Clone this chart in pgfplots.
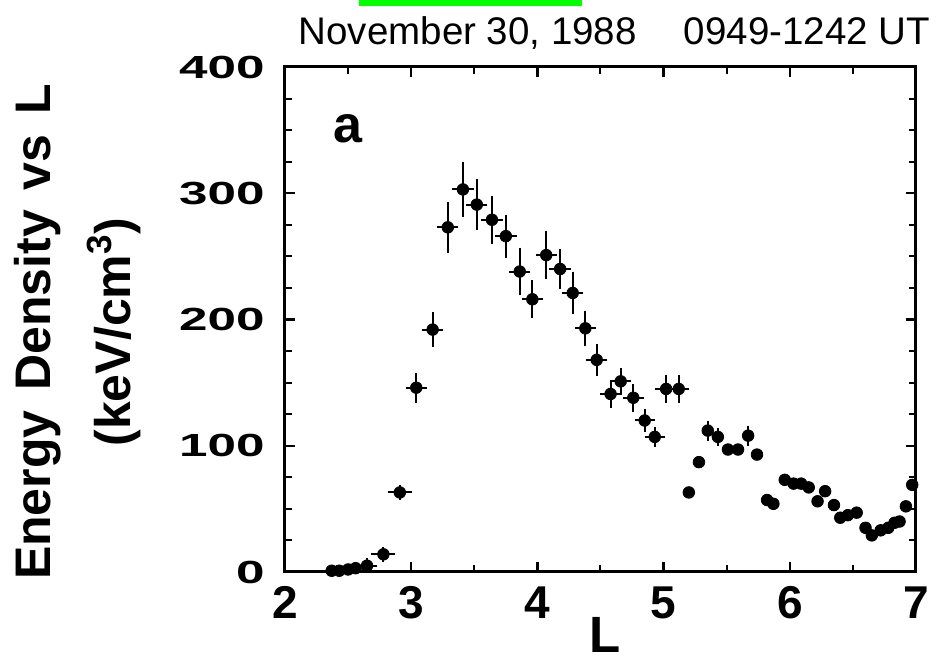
\documentclass[border=0pt]{standalone}
\usepackage{fontspec}
\setmainfont{Liberation Sans}
\usepackage{graphicx}
\usepackage{pgfplots}
\usepackage{pgfplotstable}
\pgfplotsset{compat=1.18}
\definecolor{hilite}{RGB}{0,255,0}

% points with x and y error bars
\pgfplotstableread{
L    E    eL    eE
2.65 5    0.04  2
2.78 14   0.055 2
2.91 63   0.055 2
3.04 146  0.045 8
3.17 192  0.045 10
3.29 273  0.045 16
3.41 303  0.045 18
3.52 291  0.045 16
3.64 279  0.045 15
3.75 266  0.045 13
3.86 238  0.045 15
3.96 216  0.045 11
4.07 251  0.045 15
4.18 240  0.045 12
4.28 221  0.045 13
4.38 193  0.045 10
4.47 168  0.045 9
4.58 141  0.045 7
4.66 151  0.045 7
4.76 138  0.045 7
4.85 120  0.04  5
4.93 107  0.04  4
5.02 145  0.045 7
5.12 145  0.045 7
}\errxy

% points with y error bars only
\pgfplotstableread{
L    E    eE
5.35 112  4
5.43 107  3
5.67 108  4
}\erry

% points without visible error bars
\pgfplotstableread{
L    E
2.37 1
2.43 1
2.50 2
2.56 3
5.20 63
5.28 87
5.51 97
5.59 97
5.74 93
5.82 57
5.87 54
5.96 73
6.03 70
6.09 70
6.15 67
6.22 56
6.28 64
6.35 53
6.40 43
6.46 45
6.53 47
6.60 35
6.65 29
6.72 33
6.78 35
6.83 39
6.87 40
6.92 52
6.97 69
}\plain

\newcommand{\yl}[1]{\scalebox{1.6}[1]{#1}}

\begin{document}
\begin{tikzpicture}
\begin{axis}[
    scale only axis,
    width=315.5pt, height=252.5pt,
    xmin=2, xmax=7, ymin=0, ymax=400,
    xtick={2,3,4,5,6,7},
    ytick={0,100,200,300,400},
    yticklabels={\yl{0},\yl{100},\yl{200},\yl{300},\yl{400}},
    minor x tick num=1,
    minor y tick num=3,
    axis line style={line width=1.5pt},
    major tick length=5pt,
    minor tick length=3.5pt,
    major tick style={black, line width=1.2pt},
    minor tick style={black, line width=1pt},
    /pgf/number format/assume math mode=true,
    xticklabel style={font=\fontsize{23}{23}\selectfont\bfseries, inner sep=0pt, yshift=-7pt},
    yticklabel style={font=\fontsize{16}{16}\selectfont\bfseries, inner sep=0pt, xshift=-10pt},
    clip=false,
]

\addplot[only marks, mark=*, mark size=2.9pt, black,
    error bars/.cd, x dir=both, x explicit, y dir=both, y explicit,
    error bar style={line width=1pt, black},
    error mark options={line width=1pt, mark size=2.5pt, black}]
    table[x=L, y=E, x error=eL, y error=eE] {\errxy};

\addplot[only marks, mark=*, mark size=2.9pt, black,
    error bars/.cd, y dir=both, y explicit,
    error bar style={line width=1pt, black},
    error mark options={line width=1pt, mark size=2.5pt, black}]
    table[x=L, y=E, y error=eE] {\erry};

\addplot[only marks, mark=*, mark size=2.9pt, black]
    table[x=L, y=E] {\plain};

% title, panel letter and axis labels
\node[anchor=base, inner sep=0pt, font=\fontsize{19.25}{20}\selectfont]
    at (rel axis cs:0.522,1.0436) {November 30, 1988\hspace{23.5pt}0949-1242 UT};
\fill[hilite] (rel axis cs:0.1173,1.1208) rectangle (rel axis cs:0.4707,1.1327);
\node[anchor=base west, inner sep=0pt, font=\fontsize{26}{26}\selectfont\bfseries]
    at (rel axis cs:0.0761,0.8495) {a};
\node[anchor=base, inner sep=0pt, font=\fontsize{25.5}{25.5}\selectfont\bfseries]
    at (rel axis cs:0.507,-0.1604) {L};
\node[anchor=base, rotate=90, inner sep=0pt, font=\fontsize{25}{25}\selectfont\bfseries]
    at (rel axis cs:-0.3724,0.4752) {Energy\hspace{3pt} Density\hspace{3pt} vs\hspace{3pt} L};
\node[anchor=base, rotate=90, inner sep=0pt, font=\fontsize{25}{25}\selectfont\bfseries]
    at (rel axis cs:-0.2456,0.4752) {(keV/cm\textsuperscript{3})};

\coordinate (bbsw) at (rel axis cs:-0.45166,-0.17624);
\coordinate (bbne) at (rel axis cs:1.03328,1.13267);
\end{axis}
\pgfresetboundingbox
\path[use as bounding box] (bbsw) rectangle (bbne);
\end{tikzpicture}
\end{document}
